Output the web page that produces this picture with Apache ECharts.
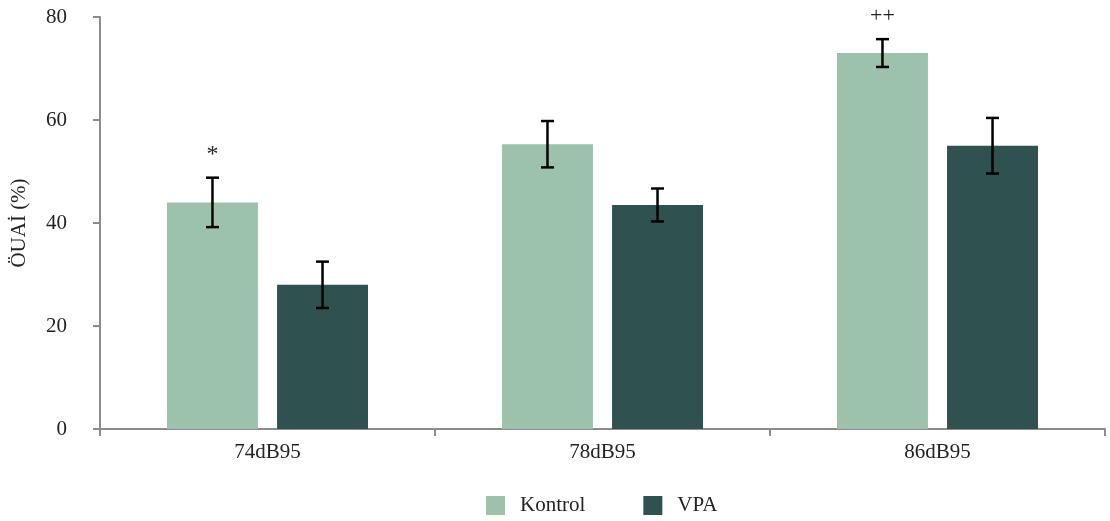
<!DOCTYPE html>
<html>
<head>
<meta charset="utf-8">
<script src="https://cdn.jsdelivr.net/npm/echarts@6/dist/echarts.min.js"></script>
<style>html,body{margin:0;padding:0;background:#fff}#c{width:1110px;height:521px}</style>
</head>
<body>
<div id="c"></div>
<script>
const categories = ['74dB95', '78dB95', '86dB95'];
const kontrol = [44, 55.3, 73];
const kontrolErr = [4.8, 4.5, 2.7];
const vpa = [28, 43.5, 55];
const vpaErr = [4.5, 3.2, 5.4];
const kontrolMarks = ['*', '', '++'];
const vpaMarks = ['', '', ''];
const yTicks = [0, 20, 40, 60, 80];

const FONT = '"Liberation Serif", "Times New Roman", serif';
const CAT_GAP = 0.4, BAR_GAP = 0.21;

function errSeries(vals, errs, marks, idx) {
  const data = vals.map((v, i) => [i, v - errs[i], v + errs[i], marks[i]]);
  return {
    type: 'custom',
    z: 10,
    data: data,
    encode: { x: 0, y: [1, 2] },
    renderItem: function (params, api) {
      const i = api.value(0);
      const lo = api.coord([i, api.value(1)]);
      const hi = api.coord([i, api.value(2)]);
      const band = api.size([1, 0])[0];
      const bw = band * (1 - CAT_GAP) / (2 + BAR_GAP);
      const off = (bw + bw * BAR_GAP) / 2 * (idx === 0 ? -1 : 1);
      const x = lo[0] + off;
      const cap = 6.5;
      const st = { stroke: '#000', lineWidth: 2.5 };
      const children = [
        { type: 'line', shape: { x1: x, y1: lo[1], x2: x, y2: hi[1] }, style: st },
        { type: 'line', shape: { x1: x - cap, y1: lo[1], x2: x + cap, y2: lo[1] }, style: st },
        { type: 'line', shape: { x1: x - cap, y1: hi[1], x2: x + cap, y2: hi[1] }, style: st }
      ];
      const m = data[params.dataIndex][3];
      if (m) {
        children.push({ type: 'text', style: { text: m, x: x, y: hi[1] - 23, align: 'center', verticalAlign: 'middle', font: (m === '*' ? '24px ' : '22px ') + FONT, fill: '#222' } });
      }
      return { type: 'group', children: children };
    }
  };
}

const chart = echarts.init(document.getElementById('c'));
chart.setOption({
  animation: false,
  grid: { left: 100, right: 5, top: 17, bottom: 92, outerBoundsMode: 'none', containLabel: false },
  legend: {
    data: ['Kontrol', 'VPA'],
    bottom: 5,
    left: 486,
    padding: 0,
    itemWidth: 19, itemHeight: 19, itemGap: 58,
    icon: 'rect',
    textStyle: { fontFamily: FONT, fontSize: 21, color: '#222', padding: [0, 0, 0, 10] }
  },
  xAxis: {
    type: 'category',
    data: categories,
    axisLine: { lineStyle: { color: '#8c8c8c', width: 2 } },
    axisTick: { show: true, alignWithLabel: false, length: 7, lineStyle: { color: '#8c8c8c', width: 2 } },
    axisLabel: { fontFamily: FONT, fontSize: 21, color: '#222', margin: 13 }
  },
  yAxis: {
    type: 'value',
    min: yTicks[0], max: yTicks[yTicks.length - 1], interval: 20,
    name: 'ÖUAİ (%)',
    nameLocation: 'middle',
    nameGap: 70,
    nameTextStyle: { fontFamily: FONT, fontSize: 21, color: '#222' },
    axisLine: { show: true, lineStyle: { color: '#8c8c8c', width: 2 } },
    axisTick: { show: true, length: 7, lineStyle: { color: '#8c8c8c', width: 2 } },
    splitLine: { show: false },
    axisLabel: { fontFamily: FONT, fontSize: 21, color: '#222', margin: 33 }
  },
  series: [
    { name: 'Kontrol', type: 'bar', data: kontrol, itemStyle: { color: '#9cc2ac' }, barCategoryGap: '40%', barGap: '21%' },
    { name: 'VPA', type: 'bar', data: vpa, itemStyle: { color: '#2f5150' }, barCategoryGap: '40%', barGap: '21%' },
    errSeries(kontrol, kontrolErr, kontrolMarks, 0),
    errSeries(vpa, vpaErr, vpaMarks, 1)
  ]
});
</script>
</body>
</html>
